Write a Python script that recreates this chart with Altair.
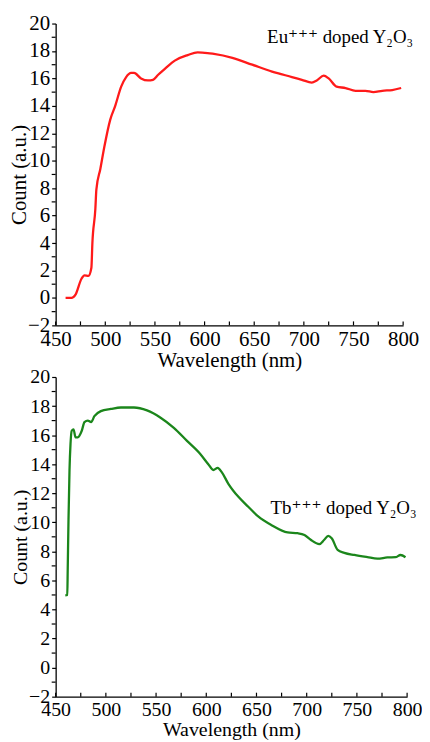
import altair as alt
import pandas as pd

# Eu+++ doped Y2O3 (top, red)
eu_wl = [460, 466, 470, 476, 479, 483, 486, 487, 490, 491, 495, 499, 505, 510, 516, 521, 526, 529,
         536, 543, 548, 553, 560, 570, 583, 593, 603, 608, 628, 648, 668, 688, 698, 708, 713, 720,
         725, 733, 742, 752, 762, 770, 779, 789, 798]
eu_ct = [0.0, 0.0, 0.24, 1.4, 1.65, 1.6, 2.2, 4.0, 6.5, 7.9, 9.4, 11.0, 13.0, 14.0, 15.4, 16.1, 16.4, 16.4,
         16.0, 15.85, 15.9, 16.25, 16.7, 17.3, 17.7, 17.9, 17.85, 17.8, 17.5, 17.0, 16.5, 16.1, 15.9, 15.7, 15.85, 16.2,
         16.0, 15.4, 15.3, 15.1, 15.1, 15.0, 15.1, 15.15, 15.3]

# Tb+++ doped Y2O3 (bottom, green)
tb_wl = [459.6, 461.6, 462, 462.8, 463.8, 464.8, 466, 467.8, 469.8, 472, 476, 478.7, 482, 485.3, 488.6,
         495, 505, 515, 528, 541, 554.5, 567.7, 580.8, 594, 602, 607, 611.4, 615.4, 622, 632, 641.8,
         651.7, 665, 681, 691, 697.8, 704, 712.6, 717.5, 721.4, 724.9, 730.8, 737.5, 747.5, 760.5,
         770.4, 780.3, 788.5, 793.4, 798.4]
tb_ct = [4.97, 5.0, 6.7, 10.2, 13.6, 15.4, 16.3, 16.4, 15.85, 15.85, 16.3, 16.9, 17.0, 16.9, 17.3,
         17.65, 17.8, 17.9, 17.9, 17.7, 17.2, 16.5, 15.6, 14.7, 14.0, 13.6, 13.75, 13.45, 12.65, 11.75, 11.07,
         10.4, 9.8, 9.3, 9.25, 9.13, 8.8, 8.5, 8.8, 9.07, 8.9, 8.1, 7.9, 7.75, 7.6,
         7.5, 7.58, 7.6, 7.75, 7.6]

x_major = list(range(450, 801, 50))
x_ticks = list(range(450, 801, 25))
y_major = list(range(-2, 21, 2))
y_minor = list(range(-1, 20, 2))

eu_label = "Eu\u207a\u207a\u207a doped Y\u2082O\u2083"
tb_label = "Tb\u207a\u207a\u207a doped Y\u2082O\u2083"

FONT = "Liberation Serif"
TFONT = "Liberation Serif, DejaVu Serif, serif"


def panel(wl, ct, color, label, lx, ly, w, h, fs):
    df = pd.DataFrame({"wl": wl, "ct": ct})
    xs = alt.Scale(domain=[450, 800], nice=False, zero=False)
    ys = alt.Scale(domain=[-2, 20], nice=False, zero=False)
    xaxis = alt.Axis(values=x_major, ticks=False, labelPadding=3, grid=False, title="Wavelength (nm)",
                     labelFontSize=fs, titleFontSize=fs, titlePadding=0, labelFlush=False,
                     labelOverlap=False, format="d")
    yaxis = alt.Axis(values=y_major, tickSize=4, labelPadding=2, grid=False, title="Count (a.u.)",
                     labelFontSize=fs, titleFontSize=fs, titlePadding=-2, labelFlush=False,
                     labelOverlap=False, format="d")
    line = alt.Chart(df).mark_line(color=color, strokeWidth=2.3, interpolate="monotone").encode(
        x=alt.X("wl:Q", scale=xs, axis=xaxis),
        y=alt.Y("ct:Q", scale=ys, axis=yaxis),
    )
    tdf = pd.DataFrame({"t": x_ticks})
    xt = alt.Chart(tdf).mark_rule(color="black", strokeWidth=1.2).encode(
        x=alt.X("t:Q", scale=xs, axis=xaxis),
        y=alt.value(h),
        y2=alt.value(h - 4),
    )
    mdf = pd.DataFrame({"m": y_minor})
    yt = alt.Chart(mdf).mark_rule(color="black", strokeWidth=1.2).encode(
        y=alt.Y("m:Q", scale=ys, axis=yaxis),
        x=alt.value(0),
        x2=alt.value(-4),
    )
    ldf = pd.DataFrame({"wl": [lx], "ct": [ly], "txt": [label]})
    text = alt.Chart(ldf).mark_text(align="left", baseline="middle", font=TFONT, fontSize=19,
                                    color="black").encode(
        x=alt.X("wl:Q", scale=xs, axis=xaxis), y=alt.Y("ct:Q", scale=ys, axis=yaxis), text="txt:N")
    return alt.layer(line, xt, yt, text).properties(width=w, height=h)


top = panel(eu_wl, eu_ct, "#ff1a1a", eu_label, 663, 19.0, 350, 304, 21)
bottom = panel(tb_wl, tb_ct, "#1b861b", tb_label, 664, 11.0, 354, 322, 20)

chart = alt.vconcat(top, bottom, spacing=52, bounds="flush").properties(
    padding={"left": 0, "top": 2, "right": 0, "bottom": 0}, background="white"
).configure_view(stroke=None).configure_axis(
    labelFont=FONT, titleFont=FONT, titleFontWeight="normal", labelColor="black", titleColor="black",
    domainColor="black", tickColor="black", domainWidth=1.3, tickWidth=1.2
)

chart.save("out.html", embed_options={"renderer": "svg", "actions": False})
